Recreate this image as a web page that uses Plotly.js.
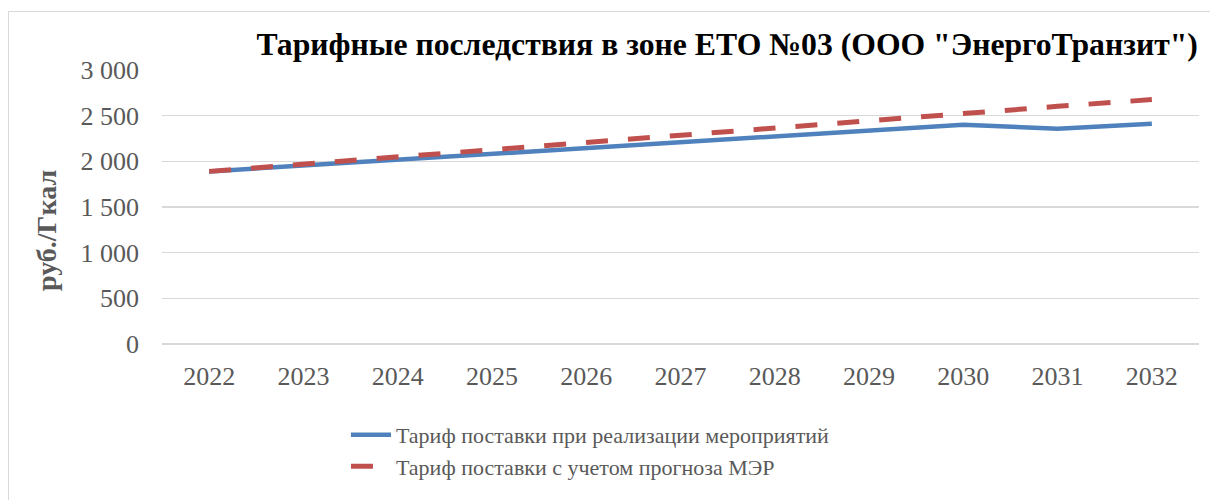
<!DOCTYPE html>
<html>
<head>
<meta charset="utf-8">
<script src="https://cdn.plot.ly/plotly-3.0.1.min.js"></script>
<style>
  html, body { margin: 0; padding: 0; background: #fff; overflow: hidden; }
  #chart { position: absolute; left: 0; top: 0; width: 1210px; height: 500px; }
  #frame { position: absolute; left: 8px; top: 11px; width: 1400px; height: 700px;
           border: 1px solid #d9d9d9; pointer-events: none; box-sizing: border-box; }
</style>
</head>
<body>
<div id="chart"></div>
<div id="frame"></div>
<script>
const years = ['2022','2023','2024','2025','2026','2027','2028','2029','2030','2031','2032'];
const tariffMeasures = [1890, 1953, 2015, 2078, 2140, 2200, 2266, 2334, 2401, 2357, 2412];
const tariffForecast = [1890, 1970, 2050, 2130, 2208, 2288, 2368, 2448, 2529, 2602, 2676];
const seriesNames = ['Тариф поставки при реализации мероприятий', 'Тариф поставки с учетом прогноза МЭР'];
const chartTitle = 'Тарифные последствия в зоне ЕТО №03 (ООО "ЭнергоТранзит")';
const yTitle = 'руб./Гкал';

const serif = '"Liberation Serif", "Times New Roman", serif';

const traces = [
  { x: years, y: tariffMeasures, name: seriesNames[0], type: 'scatter', mode: 'lines',
    line: { color: '#4F81BD', width: 4.5 } },
  { x: years, y: tariffForecast, name: seriesNames[1], type: 'scatter', mode: 'lines',
    line: { color: '#C0504D', width: 5, dash: '22px,20px' } }
];

const layout = {
  width: 1210, height: 500,
  margin: { l: 162, r: 11, t: 70, b: 156, autoexpand: false },
  paper_bgcolor: 'rgba(0,0,0,0)', plot_bgcolor: 'rgba(0,0,0,0)',
  separators: ', ',
  font: { family: serif, color: '#595959', size: 23 },
  title: { text: '<b>' + chartTitle + '</b>', xref: 'container', x: 0.601, xanchor: 'center',
           yref: 'container', y: 0.912, yanchor: 'middle',
           font: { family: serif, size: 31.7, color: '#000000' } },
  xaxis: { type: 'category', range: [-0.5, 10.5], showgrid: false, zeroline: false,
           showline: false, ticks: '', ticklabelstandoff: 14, tickangle: 0, automargin: false,
           tickfont: { family: serif, size: 26, color: '#595959' } },
  yaxis: { range: [0, 3000], dtick: 500, tickformat: ',d', showgrid: true, gridcolor: '#d9d9d9',
           gridwidth: 1.3, zeroline: true, zerolinecolor: '#d9d9d9', zerolinewidth: 1.3,
           showline: false, ticks: '', ticklabelstandoff: 22, automargin: false,
           tickfont: { family: serif, size: 26, color: '#595959' } },
  annotations: [
    { text: '<b>' + yTitle + '</b>', xref: 'paper', yref: 'paper', showarrow: false,
      x: -116 / 1037, y: (344 - 231) / 274, xanchor: 'center', yanchor: 'middle', textangle: -90,
      font: { family: serif, size: 28, color: '#595959' } }
  ],
  showlegend: true,
  legend: { x: 0.1774, y: -0.255, xanchor: 'left', yanchor: 'top',
            orientation: 'v', bgcolor: 'rgba(0,0,0,0)', itemwidth: 40, tracegroupgap: 0,
            font: { family: serif, size: 22, color: '#595959' } }
};

Plotly.newPlot('chart', traces, layout, { displayModeBar: false, staticPlot: true });
</script>
</body>
</html>
